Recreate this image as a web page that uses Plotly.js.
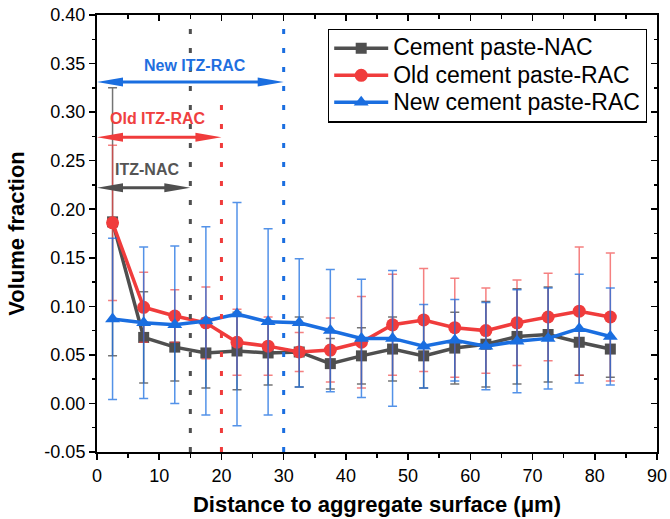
<!DOCTYPE html>
<html>
<head>
<meta charset="utf-8">
<script src="https://cdn.plot.ly/plotly-3.0.1.min.js"></script>
<style>
  html, body { margin: 0; padding: 0; background: #ffffff; }
  #chart { width: 670px; height: 519px; }
</style>
</head>
<body>
<div id="chart"></div>
<script>
// Distance bins (µm from the aggregate surface)
const distance = [2.5, 7.5, 12.5, 17.5, 22.5, 27.5, 32.5, 37.5, 42.5, 47.5, 52.5, 57.5, 62.5, 67.5, 72.5, 77.5, 82.5];

// Cement paste in normal aggregate concrete
const nacMean = [0.187, 0.068, 0.058, 0.052, 0.054, 0.052, 0.053, 0.041, 0.049, 0.056, 0.049, 0.057, 0.061, 0.069, 0.071, 0.063, 0.056];
const nacSd   = [0.138, 0.047, 0.035, 0.036, 0.040, 0.033, 0.036, 0.026, 0.029, 0.033, 0.033, 0.037, 0.044, 0.049, 0.049, 0.034, 0.029];

// Old (adhered) cement paste in recycled aggregate concrete
const oldMean = [0.186, 0.099, 0.090, 0.083, 0.063, 0.059, 0.053, 0.055, 0.063, 0.081, 0.086, 0.078, 0.075, 0.083, 0.089, 0.095, 0.089];
const oldSd   = [0.080, 0.036, 0.027, 0.037, 0.034, 0.030, 0.020, 0.033, 0.047, 0.052, 0.053, 0.051, 0.044, 0.044, 0.045, 0.066, 0.066];

// New cement paste in recycled aggregate concrete
const newMean = [0.087, 0.083, 0.081, 0.085, 0.092, 0.084, 0.083, 0.075, 0.067, 0.067, 0.059, 0.065, 0.059, 0.064, 0.067, 0.077, 0.069];
const newSd   = [0.083, 0.078, 0.081, 0.097, 0.115, 0.096, 0.066, 0.063, 0.061, 0.070, 0.043, 0.042, 0.045, 0.053, 0.052, 0.056, 0.050];

const seriesNames = ['Cement paste-NAC', 'Old cement paste-RAC', 'New cement paste-RAC'];

// ITZ widths (µm) and their labels
const itzWidth  = [15, 20, 30];
const itzLabels = ['ITZ-NAC', 'Old ITZ-RAC', 'New ITZ-RAC'];

// Axis ticks
const xTicks = [0, 10, 20, 30, 40, 50, 60, 70, 80, 90];
const yTickVals = [-0.05, 0, 0.05, 0.10, 0.15, 0.20, 0.25, 0.30, 0.35, 0.40];
const yTickText = ['-0.05', '0.00', '0.05', '0.10', '0.15', '0.20', '0.25', '0.30', '0.35', '0.40'];

const GRAY = '#4f4f4f', RED = '#f03c3c', BLUE = '#1a6ee0';
const FONT = 'Liberation Sans, Arial, sans-serif';

// legend rows are packed tighter than the text size would give by default,
// so the row height follows a smaller base size and the text is enlarged inline
const legendLabel = (s) => '<span style="font-size:23px">' + s + '</span>';

function series(name, y, sd, color, errColor, symbol, size) {
  return {
    type: 'scatter', mode: 'lines+markers', name: legendLabel(name),
    x: distance, y: y,
    line: { color: color, width: 3.5 },
    marker: { color: color, symbol: symbol, size: size },
    error_y: { type: 'data', array: sd, visible: true, color: errColor, thickness: 1.5, width: 4.5 },
    cliponaxis: false
  };
}

const traces = [
  series(seriesNames[0], nacMean, nacSd, GRAY, 'rgba(70,70,70,0.75)', 'square', 11),
  series(seriesNames[1], oldMean, oldSd, RED, 'rgba(240,60,60,0.65)', 'circle', 13),
  series(seriesNames[2], newMean, newSd, BLUE, 'rgba(26,110,224,0.75)', 'triangle-up', 13),
  // carrier for the inward-ticked top/right frame axes
  { type: 'scatter', x: [], y: [], xaxis: 'x2', yaxis: 'y2', showlegend: false, hoverinfo: 'skip' }
];

// Zone styling: boundary lines, arrows and labels
const zoneColor = [GRAY, RED, BLUE];
const labelColor = ['#555555', '#ef4040', '#1f6fdf'];
const arrowY = [0.222, 0.274, 0.331];
const labelPos = [[8.0, 0.241], [9.85, 0.293], [15.75, 0.348]];
const lineTop = [0.395, 0.31, 0.395];

const unitsPerPx = 90 / 560;
const headLen = 26, headHalf = 4.5;

const shapes = [];
const annotations = [];
itzWidth.forEach((w, i) => {
  // dotted boundary of the zone
  shapes.push({
    type: 'line', xref: 'x', yref: 'y', x0: w, x1: w, y0: -0.05, y1: lineTop[i],
    line: { color: zoneColor[i], width: 3, dash: '5px,14px' }, layer: 'above'
  });
  // double-headed arrow spanning the zone
  shapes.push({
    type: 'line', xref: 'x', yref: 'y',
    x0: 0 + (headLen - 4) * unitsPerPx, x1: w - (headLen - 4) * unitsPerPx,
    y0: arrowY[i], y1: arrowY[i],
    line: { color: zoneColor[i], width: 3 }, layer: 'above'
  });
  shapes.push({
    type: 'path', xref: 'x', yref: 'y', xsizemode: 'pixel', ysizemode: 'pixel',
    xanchor: w, yanchor: arrowY[i],
    path: `M 0,0 L ${-headLen},${headHalf} L ${-headLen},${-headHalf} Z`,
    fillcolor: zoneColor[i], line: { width: 0 }, layer: 'above'
  });
  shapes.push({
    type: 'path', xref: 'x', yref: 'y', xsizemode: 'pixel', ysizemode: 'pixel',
    xanchor: 0, yanchor: arrowY[i],
    path: `M 0,0 L ${headLen},${headHalf} L ${headLen},${-headHalf} Z`,
    fillcolor: zoneColor[i], line: { width: 0 }, layer: 'above'
  });
  annotations.push({
    xref: 'x', yref: 'y', x: labelPos[i][0], y: labelPos[i][1],
    text: '<b>' + itzLabels[i] + '</b>', showarrow: false,
    xanchor: 'center', yanchor: 'middle',
    font: { family: FONT, size: 16, color: labelColor[i] }
  });
});

const layout = {
  width: 670, height: 519,
  margin: { l: 97, r: 13, t: 15, b: 67 },
  paper_bgcolor: '#ffffff', plot_bgcolor: '#ffffff',
  font: { family: FONT, color: '#000000' },
  showlegend: true,
  legend: {
    x: 0.4125, y: 0.969, xanchor: 'left', yanchor: 'top',
    bgcolor: '#ffffff', bordercolor: '#000000', borderwidth: 1.2,
    font: { family: FONT, size: 18.5, color: '#000000' },
    tracegroupgap: 0, itemwidth: 54
  },
  xaxis: {
    range: [0, 90], tickmode: 'array', tickvals: xTicks,
    showgrid: false, zeroline: false,
    showline: true, linecolor: '#000000', linewidth: 2,
    ticks: 'outside', ticklen: 6, tickwidth: 1.5, tickcolor: '#000000',
    tickfont: { family: FONT, size: 18, color: '#000000' },
    minor: { tickmode: 'linear', tick0: 0, dtick: 5, ticks: 'outside', ticklen: 3.5, tickwidth: 1.5, tickcolor: '#000000' },
    title: { text: '<b>Distance to aggregate surface (μm)</b>', font: { family: FONT, size: 22, color: '#000000' }, standoff: 12 }
  },
  yaxis: {
    range: [-0.05, 0.40], tickmode: 'array', tickvals: yTickVals, ticktext: yTickText,
    showgrid: false, zeroline: false,
    showline: true, linecolor: '#000000', linewidth: 2,
    ticks: 'outside', ticklen: 6, tickwidth: 1.5, tickcolor: '#000000',
    tickfont: { family: FONT, size: 18, color: '#000000' },
    minor: { tickmode: 'linear', tick0: 0, dtick: 0.025, ticks: 'outside', ticklen: 3.5, tickwidth: 1.5, tickcolor: '#000000' },
    title: { text: '<b>Volume fraction</b>', font: { family: FONT, size: 22, color: '#000000' }, standoff: 14 }
  },
  xaxis2: {
    overlaying: 'x', side: 'top', anchor: 'y', range: [0, 90],
    tickmode: 'array', tickvals: xTicks, showticklabels: false,
    showgrid: false, zeroline: false,
    showline: true, linecolor: '#000000', linewidth: 2,
    ticks: 'inside', ticklen: 6, tickwidth: 1.5, tickcolor: '#000000',
    minor: { tickmode: 'linear', tick0: 0, dtick: 5, ticks: 'inside', ticklen: 3.5, tickwidth: 1.5, tickcolor: '#000000' }
  },
  yaxis2: {
    overlaying: 'y', side: 'right', anchor: 'x', range: [-0.05, 0.40],
    tickmode: 'array', tickvals: yTickVals, showticklabels: false,
    showgrid: false, zeroline: false,
    showline: true, linecolor: '#000000', linewidth: 2,
    ticks: 'inside', ticklen: 6, tickwidth: 1.5, tickcolor: '#000000',
    minor: { tickmode: 'linear', tick0: 0, dtick: 0.025, ticks: 'inside', ticklen: 3.5, tickwidth: 1.5, tickcolor: '#000000' }
  },
  shapes: shapes,
  annotations: annotations
};

Plotly.newPlot('chart', traces, layout, { displayModeBar: false, staticPlot: true });
</script>
</body>
</html>
